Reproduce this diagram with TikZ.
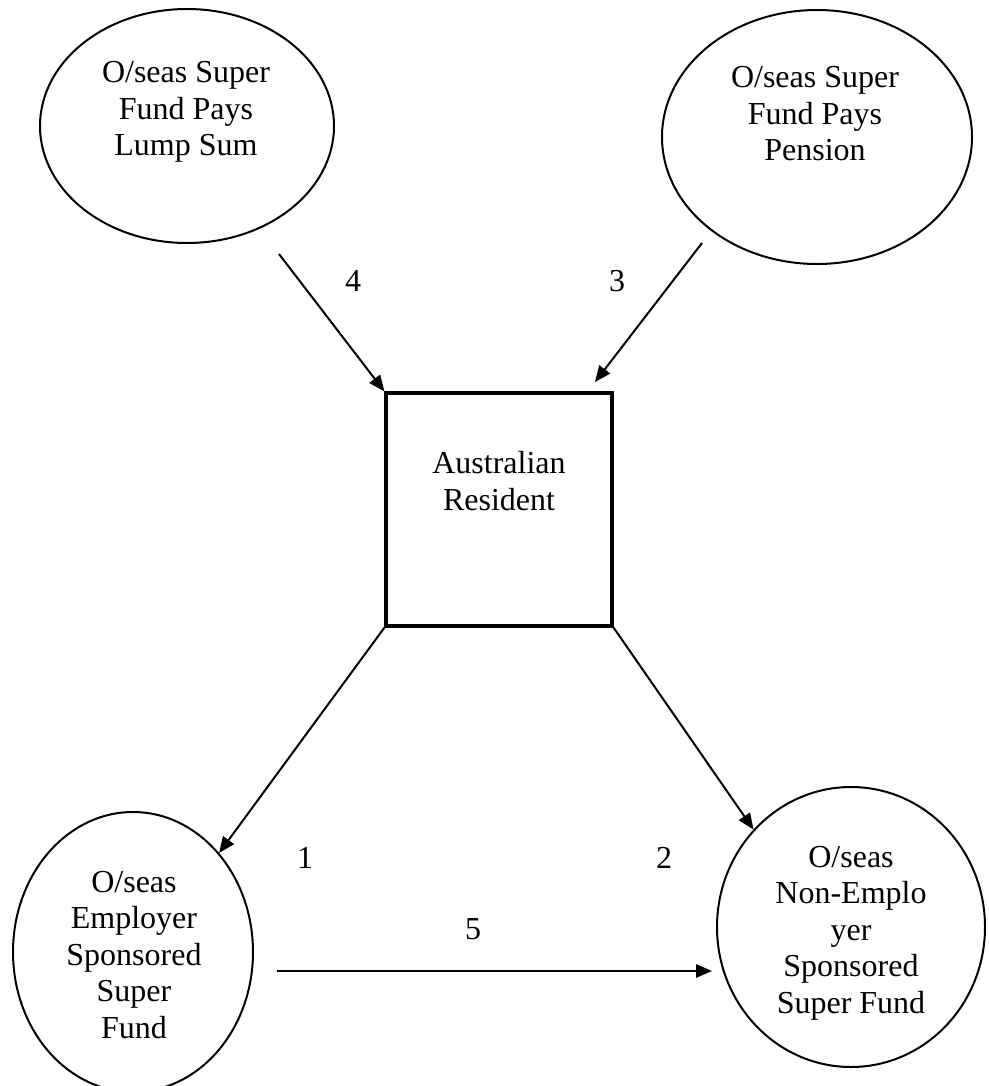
\documentclass[tikz,border=0pt]{standalone}
\usepackage{fontspec}
\setmainfont{Liberation Serif}
\usetikzlibrary{arrows.meta,shapes.geometric}
\begin{document}
\begin{tikzpicture}[x=0.75pt,y=-0.75pt,
  txt/.style={align=center,font=\fontsize{24pt}{27.4pt}\selectfont,inner sep=0pt},
  oval/.style={draw,ellipse,line width=1.5pt,inner sep=0pt},
  box/.style={draw,rectangle,line width=2.4pt,inner sep=0pt,minimum width=169.5pt,minimum height=174.75pt},
  arr/.style={line width=1.5pt,-{Triangle[length=12pt,width=10pt]}},
  num/.style={font=\fontsize{24pt}{27.4pt}\selectfont,inner sep=0pt}]
\useasboundingbox (0,0) rectangle (989,1086);
% shapes
\node[oval,minimum width=220.5pt,minimum height=175.5pt] (TL) at (187,126) {};
\node[oval,minimum width=232.5pt,minimum height=190.5pt] (TR) at (817,137) {};
\node[box] (R) at (499,509.5) {};
\node[oval,minimum width=180pt,minimum height=210pt] (BL) at (133,952) {};
\node[oval,minimum width=201pt,minimum height=210pt] (BR) at (851,927) {};
% texts
\node[txt] (tTL) at (186,112) {O/seas Super\\Fund Pays\\Lump Sum};
\node[txt] (tTR) at (815,114) {O/seas Super\\Fund Pays\\Pension};
\node[txt] (tR) at (499,481) {Australian\\Resident};
\node[txt] (tBL) at (134,955) {O/seas\\Employer\\Sponsored\\Super\\Fund};
\node[txt] (tBR) at (851,933) {O/seas\\Non-Emplo\\yer\\Sponsored\\Super Fund};
% free ends
\coordinate (c4) at (279,254);
\coordinate (c3) at (702,243);
\coordinate (e3) at (595,382);
\coordinate (c5) at (277,971);
\coordinate (e5) at (712,971);
% connectors
\draw[arr] (c4) -- (R.north west);
\draw[arr] (c3) -- (e3);
\draw[arr] (R.south west) -- (BL.49);
\draw[arr] (R.south east) -- (BR.135);
\draw[arr] (c5) -- (e5);
% labels
\node[num] (l4) at (353,281) {4};
\node[num] (l3) at (617,281) {3};
\node[num] (l1) at (305,858) {1};
\node[num] (l2) at (664,858) {2};
\node[num] (l5) at (473,929) {5};
\end{tikzpicture}
\end{document}
